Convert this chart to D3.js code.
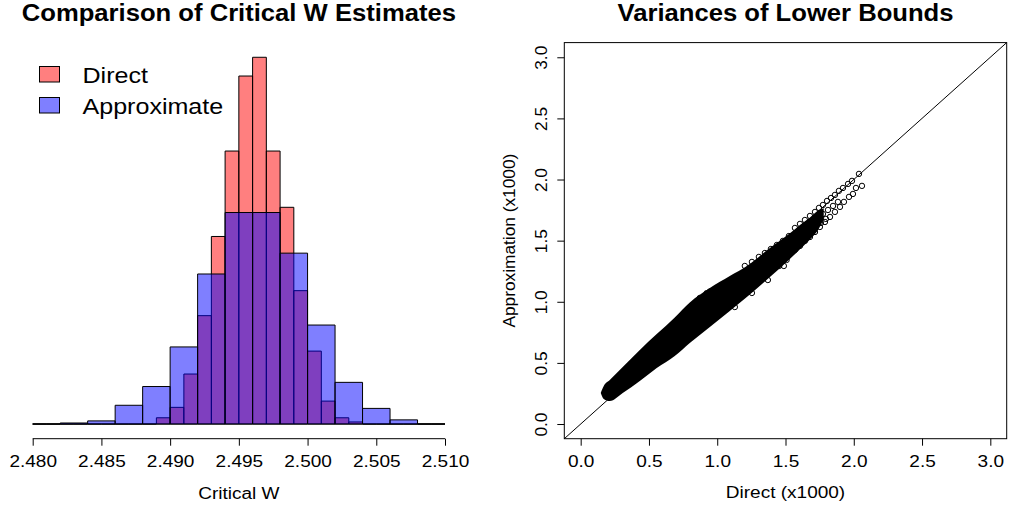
<!DOCTYPE html>
<html><head><meta charset="utf-8">
<script src="https://cdn.jsdelivr.net/npm/d3@7"></script>
<style>body{margin:0;background:#fff} svg{display:block} text{font-family:"Liberation Sans",Arial,sans-serif;fill:#000}</style>
</head><body>
<script>
// ---------- data ----------
const histTitle = "Comparison of Critical W Estimates";
const scatterTitle = "Variances of Lower Bounds";
const seriesNames = ["Direct", "Approximate"];
const sampleSize = 1000;

const redBreaks = [2.480,2.481,2.482,2.483,2.484,2.485,2.486,2.487,2.488,2.489,2.490,2.491,2.492,2.493,2.494,2.495,2.496,2.497,2.498,2.499,2.500,2.501,2.502,2.503,2.504,2.505,2.506,2.507,2.508,2.509,2.510];
const redCounts = [0,0,0,0,0,0,0,0,0,3,8,24,52,90,131,167,176,131,104,64,35,11,3,1,0,0,0,0,0,0];
const blueBreaks = [2.480,2.482,2.484,2.486,2.488,2.490,2.492,2.494,2.496,2.498,2.500,2.502,2.504,2.506,2.508,2.510];
const blueCounts = [0,1,3,18,36,74,144,203,203,164,95,40,15,4,0];

const histTicks = [2.480,2.485,2.490,2.495,2.500,2.505,2.510];
const histTickLabels = ["2.480","2.485","2.490","2.495","2.500","2.505","2.510"];
const histXLabel = "Critical W";

const scatterTicks = [0,0.5,1,1.5,2,2.5,3];
const scatterTickLabels = ["0.0","0.5","1.0","1.5","2.0","2.5","3.0"];
const scatterXLabel = "Direct (x1000)";
const scatterYLabel = "Approximation (x1000)";

// dense core of the point cloud (outer envelope)
const envX    = [0.147,0.169,0.213,0.308,0.433,0.557,0.689,0.799,0.946,1.092,1.217,1.386,1.532,1.606,1.679,1.745,1.780];
const envHigh = [0.254,0.311,0.360,0.466,0.606,0.736,0.872,0.995,1.113,1.211,1.293,1.440,1.560,1.628,1.690,1.750,1.765];
const envLow  = [0.254,0.205,0.188,0.254,0.352,0.458,0.556,0.663,0.794,0.925,1.039,1.203,1.350,1.430,1.510,1.600,1.680];

// individually visible points
const ptX = [1.569,1.606,1.642,1.679,1.716,1.745,1.774,1.804,1.833,1.862,1.891,1.921,1.958,1.987,2.038,
             1.569,1.606,1.650,1.694,1.738,1.774,1.811,1.848,1.884,
             1.584,1.628,1.672,1.716,1.760,1.796,
             1.569,1.606,1.642,1.679,1.716,1.752,1.789,1.826,1.862,1.899,1.928,1.965,1.994,2.016,2.060,
             1.508,1.454,1.393,0.922,0.872,0.946,
             1.202,1.254,1.305,1.349,1.393,1.437,1.481,1.525,
             1.129,1.254,1.371,1.488];
const ptY = [1.604,1.637,1.669,1.702,1.735,1.768,1.792,1.825,1.849,1.874,1.907,1.931,1.964,1.989,2.046,
             1.538,1.571,1.604,1.645,1.686,1.718,1.751,1.784,1.817,
             1.481,1.522,1.563,1.604,1.645,1.678,
             1.424,1.457,1.498,1.530,1.571,1.612,1.653,1.694,1.735,1.776,1.817,1.858,1.882,1.931,1.948,
             1.342,1.293,1.252,1.070,1.031,1.084,
             1.293,1.326,1.367,1.399,1.432,1.465,1.498,1.538,
             0.957,1.072,1.178,1.293];

// ---------- layout ----------
const W = 1010, H = 505;
const SX = 1.1; // horizontal stretch of glyphs
const svg = d3.select("body").append("svg").attr("width", W).attr("height", H);

function hText(g, x, y, s, size, weight, anchor) {
  return g.append("text").attr("transform", `translate(${x},${y}) scale(${SX},1)`)
    .attr("text-anchor", anchor).style("font-size", size + "px").style("font-weight", weight).text(s);
}
function vText(g, x, y, s, size) {
  return g.append("text").attr("transform", `translate(${x},${y}) rotate(-90)`)
    .attr("text-anchor", "middle").style("font-size", size + "px").text(s);
}

const regTop = 42.6, regBot = 438.7;
const FS = 17.3;

// ---------- left: histogram ----------
const L = {x0: 16.2, x1: 461.5};
const hx = d3.scaleLinear().domain([2.4788, 2.5112]).range([L.x0, L.x1]);
const maxDens = d3.max(redCounts) / (sampleSize * 0.001);
const pad = maxDens * 0.04;
const hy = d3.scaleLinear().domain([-pad, maxDens + pad]).range([regBot, regTop]);

function bins(breaks, counts) {
  return counts.map((c, i) => ({x0: breaks[i], x1: breaks[i+1], d: c / (sampleSize * (breaks[i+1] - breaks[i]))}));
}
const gH = svg.append("g");
function drawBars(data, fill) {
  gH.selectAll(null).data(data).enter().append("path")
    .attr("d", d => `M${hx(d.x0)},${hy(0)}H${hx(d.x1)}V${hy(d.d)}H${hx(d.x0)}Z`)
    .attr("fill", fill).attr("stroke", "#000").attr("stroke-width", 1);
}
drawBars(bins(redBreaks, redCounts), "rgba(255,0,0,0.5)");
drawBars(bins(blueBreaks, blueCounts), "rgba(0,0,255,0.5)");

const axH = svg.append("g").attr("transform", `translate(0,${regBot})`)
  .call(d3.axisBottom(hx).tickValues(histTicks).tickFormat((d, i) => histTickLabels[i]).tickSize(7).tickSizeOuter(0));
axH.select(".domain").remove();
axH.append("line").attr("x1", hx(histTicks[0])).attr("x2", hx(histTicks[histTicks.length-1]))
  .attr("stroke", "#000");
axH.selectAll(".tick line").attr("stroke", "#000");
axH.selectAll(".tick text").attr("y", 28).attr("dy", 0).attr("transform", `scale(${SX},1)`)
  .style("font-size", FS + "px").style("font-family", '"Liberation Sans",Arial,sans-serif').attr("fill", "#000");

hText(svg, (L.x0 + L.x1) / 2, 21, histTitle, 23.3, "bold", "middle");
hText(svg, (L.x0 + L.x1) / 2, 499, histXLabel, FS, "normal", "middle");

// legend
const legFill = ["rgba(255,0,0,0.5)", "rgba(0,0,255,0.5)"];
seriesNames.forEach((s, i) => {
  svg.append("rect").attr("x", 39.5).attr("y", 66.5 + i * 31).attr("width", 20).attr("height", 15.5)
    .attr("fill", legFill[i]).attr("stroke", "#000");
  hText(svg, 82.5, 83 + i * 31, s, 22.8, "normal", "start");
});

// ---------- right: scatter ----------
const R = {x0: 564.3, x1: 1006.7};
const sx = d3.scaleLinear().domain([-0.12, 3.12]).range([R.x0, R.x1]);
const sy = d3.scaleLinear().domain([-0.12, 3.12]).range([regBot, regTop]);
const gS = svg.append("g");

gS.append("path").datum(envX.map((x, i) => ({x, lo: envLow[i], hi: envHigh[i]})))
  .attr("d", d3.area().x(d => sx(d.x)).y0(d => sy(d.lo)).y1(d => sy(d.hi)).curve(d3.curveMonotoneX))
  .attr("fill", "#000");

gS.append("line").attr("x1", sx(-0.12)).attr("y1", sy(-0.12)).attr("x2", sx(3.12)).attr("y2", sy(3.12))
  .attr("stroke", "#000").attr("stroke-width", 1);

gS.selectAll(null).data(ptX.map((x, i) => ({x, y: ptY[i]}))).enter().append("circle")
  .attr("cx", d => sx(d.x)).attr("cy", d => sy(d.y)).attr("r", 2.7)
  .attr("fill", "none").attr("stroke", "#000").attr("stroke-width", 1);

svg.append("rect").attr("x", R.x0).attr("y", regTop).attr("width", R.x1 - R.x0).attr("height", regBot - regTop)
  .attr("fill", "none").attr("stroke", "#000");

const axSX = svg.append("g").attr("transform", `translate(0,${regBot})`)
  .call(d3.axisBottom(sx).tickValues(scatterTicks).tickFormat((d, i) => scatterTickLabels[i]).tickSize(7).tickSizeOuter(0));
axSX.select(".domain").remove();
axSX.selectAll(".tick line").attr("stroke", "#000");
axSX.selectAll(".tick text").attr("y", 28).attr("dy", 0).attr("transform", `scale(${SX},1)`)
  .style("font-size", FS + "px").style("font-family", '"Liberation Sans",Arial,sans-serif').attr("fill", "#000");

const axSY = svg.append("g").attr("transform", `translate(${R.x0},0)`)
  .call(d3.axisLeft(sy).tickValues(scatterTicks).tickFormat((d, i) => scatterTickLabels[i]).tickSize(7).tickSizeOuter(0));
axSY.select(".domain").remove();
axSY.selectAll(".tick line").attr("stroke", "#000");
axSY.selectAll(".tick text").attr("x", 0).attr("y", -17.6).attr("dy", 0).attr("text-anchor", "middle")
  .attr("transform", "rotate(-90)")
  .style("font-size", FS + "px").style("font-family", '"Liberation Sans",Arial,sans-serif').attr("fill", "#000");

hText(svg, (R.x0 + R.x1) / 2, 21, scatterTitle, 23.3, "bold", "middle");
hText(svg, (R.x0 + R.x1) / 2, 498, scatterXLabel, FS, "normal", "middle");
vText(svg, 514.5, (regTop + regBot) / 2, scatterYLabel, FS);
</script>
</body></html>
